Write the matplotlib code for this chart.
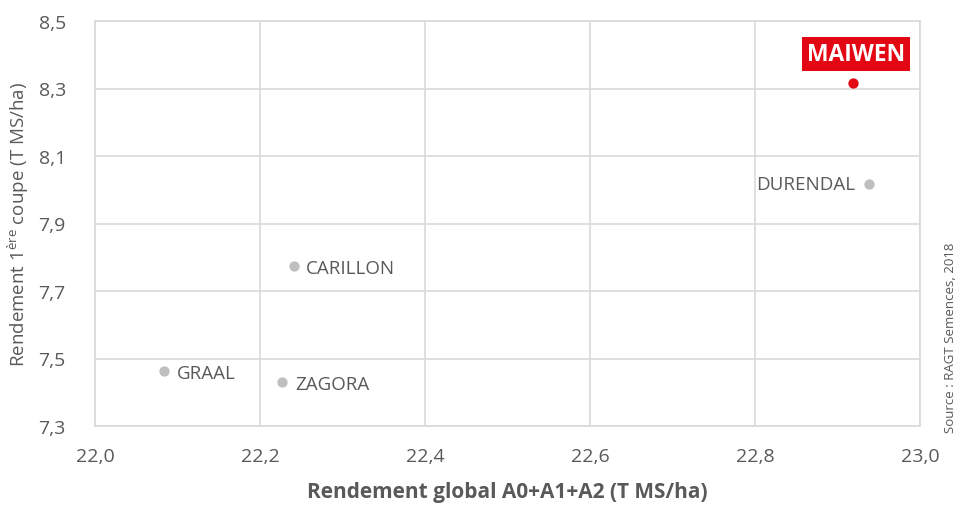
import matplotlib
matplotlib.use("Agg")
import matplotlib.pyplot as plt
from matplotlib import font_manager
from matplotlib.ticker import FuncFormatter

names = {f.name for f in font_manager.fontManager.ttflist}
fam = "Liberation Sans Narrow" if "Liberation Sans Narrow" in names else "Open Sans"
plt.rcParams['font.family'] = [fam, 'DejaVu Sans']
plt.rcParams['mathtext.fontset'] = 'custom'
plt.rcParams['mathtext.rm'] = fam

# Data
varieties = ["MAIWEN", "DURENDAL", "CARILLON", "GRAAL", "ZAGORA"]
rendement_global = [22.919, 22.938, 22.241, 22.084, 22.227]
rendement_1coupe = [8.317, 8.018, 7.773, 7.462, 7.430]
x_ticks = [22.0, 22.2, 22.4, 22.6, 22.8, 23.0]
y_ticks = [7.3, 7.5, 7.7, 7.9, 8.1, 8.3, 8.5]

GREY_TXT = "#595959"
GREY_PT = "#bfbfbf"
RED = "#e30613"

fig = plt.figure(figsize=(9.6, 5.06), dpi=100)
ax = fig.add_axes([95/960, 1 - 427/506, (920-95)/960, (427-22)/506])

for name, x, y in zip(varieties, rendement_global, rendement_1coupe):
    if name == "MAIWEN":
        ax.scatter([x], [y], s=55, color=RED, zorder=3, linewidths=0)
        ax.annotate(name, (x, y), xytext=(2, 21), textcoords="offset points",
                    ha="center", va="center", color="white", fontsize=16.5,
                    fontweight="bold", zorder=4,
                    bbox=dict(boxstyle="square,pad=0.22", fc=RED, ec="none"))
    else:
        ax.scatter([x], [y], s=55, color=GREY_PT, zorder=3, linewidths=0)
        if name == "DURENDAL":
            ax.annotate(name, (x, y), xytext=(-10, 0), textcoords="offset points",
                        ha="right", va="center", color=GREY_TXT, fontsize=13.5)
        else:
            ax.annotate(name, (x, y), xytext=(9, -1), textcoords="offset points",
                        ha="left", va="center", color=GREY_TXT, fontsize=13.5)

ax.set_xlim(22.0, 23.0)
ax.set_ylim(7.3, 8.5)
ax.set_xticks(x_ticks)
ax.set_yticks(y_ticks)
fmt = FuncFormatter(lambda v, p: f"{v:.1f}".replace(".", ","))
ax.xaxis.set_major_formatter(fmt)
ax.yaxis.set_major_formatter(fmt)
ax.tick_params(length=0, labelsize=14, colors=GREY_TXT, pad=15)
ax.tick_params(axis='y', pad=21)
ax.grid(True, color="#d9d9d9", linewidth=1.2)
ax.set_axisbelow(True)
for s in ax.spines.values():
    s.set_color("#d9d9d9")
    s.set_linewidth(1.2)

ax.set_xlabel("Rendement global A0+A1+A2 (T MS/ha)", fontsize=15, fontweight="bold",
              color=GREY_TXT, labelpad=12)
ax.set_ylabel(r"Rendement 1$^{\mathrm{ère}}$ coupe (T MS/ha)", fontsize=13.5,
              color=GREY_TXT)
ax.yaxis.set_label_coords((31 - 95) / 825, 0.5)

fig.text(950/960, 1 - 338/506, "Source : RAGT Semences, 2018", rotation=90,
         ha="center", va="center", fontsize=9.5, color=GREY_TXT)

fig.savefig("out.png", dpi=100)
